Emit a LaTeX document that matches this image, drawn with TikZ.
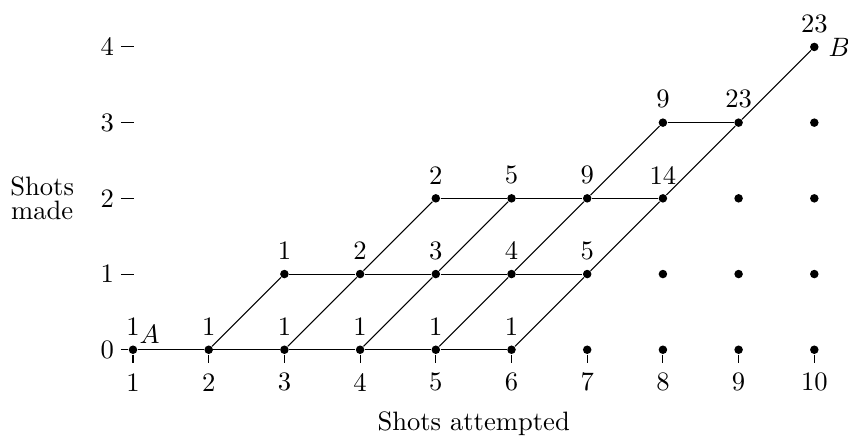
\documentclass[tikz,border=0pt]{standalone}
\usetikzlibrary{positioning}
\begin{document}
\begin{tikzpicture}[
    dot/.style={circle, fill, inner sep=0pt, minimum size=3.2pt},
    tally/.style={dot, label={above:#1}},
    axisnum/.style={inner sep=0pt}
]
\useasboundingbox (-0.757,-1.152) rectangle (10.445,4.62);
% points that carry a count
\node[tally=1, label={[inner sep=1pt]above right:$A$}] (s1-0) at (1,0) {};
\node[tally=1] (s2-0) at (2,0) {};
\node[tally=1] (s3-0) at (3,0) {};
\node[tally=1] (s4-0) at (4,0) {};
\node[tally=1] (s5-0) at (5,0) {};
\node[tally=1] (s6-0) at (6,0) {};
\node[tally=1] (s3-1) at (3,1) {};
\node[tally=2] (s4-1) at (4,1) {};
\node[tally=3] (s5-1) at (5,1) {};
\node[tally=4] (s6-1) at (6,1) {};
\node[tally=5] (s7-1) at (7,1) {};
\node[tally=2] (s5-2) at (5,2) {};
\node[tally=5] (s6-2) at (6,2) {};
\node[tally=9] (s7-2) at (7,2) {};
\node[tally=14] (s8-2) at (8,2) {};
\node[tally=9] (s8-3) at (8,3) {};
\node[tally=23] (s9-3) at (9,3) {};
\node[tally=23, label={right:$B$}] (s10-4) at (10,4) {};
% points without a count
\foreach \x in {7,...,10} \node[dot] (s\x-0) at (\x,0) {};
\foreach \x in {8,9,10} \node[dot] (s\x-1) at (\x,1) {};
\node[dot] (s9-2) at (9,2) {};
\node[dot] (s10-2) at (10,2) {};
\node[dot] (s10-3) at (10,3) {};
% axes
\coordinate (t0) at (0.84,0);
\foreach \y in {0,...,4} \node[axisnum] (y\y) at (0.66,\y) {\y};
\foreach \y in {1,...,4} {
    \coordinate (t\y) at (0.84,\y);
    \coordinate (e\y) at (1.01,\y);
    \draw (t\y) -- (e\y);
}
\foreach \x in {1,...,10} {
    \coordinate (b\x) at (\x,-0.18);
    \draw (s\x-0) -- (b\x);
    \node[axisnum] (x\x) at (\x,-0.43) {\x};
}
\node (xtitle) at (5.5,-0.98) {Shots attempted};
\node[align=center] (ytitle) at (-0.2,2) {Shots\\[-3.2pt]made};
% paths
\draw (t0) -- (s1-0) -- (s2-0) -- (s3-0) -- (s4-0) -- (s5-0) -- (s6-0);
\draw (s3-1) -- (s4-1) -- (s5-1) -- (s6-1) -- (s7-1);
\draw (s5-2) -- (s6-2) -- (s7-2) -- (s8-2);
\draw (s8-3) -- (s9-3);
\draw (s2-0) -- (s3-1);
\draw (s3-0) -- (s4-1) -- (s5-2);
\draw (s4-0) -- (s5-1) -- (s6-2);
\draw (s5-0) -- (s6-1) -- (s7-2) -- (s8-3);
\draw (s6-0) -- (s7-1) -- (s8-2) -- (s9-3) -- (s10-4);
\end{tikzpicture}
\end{document}
